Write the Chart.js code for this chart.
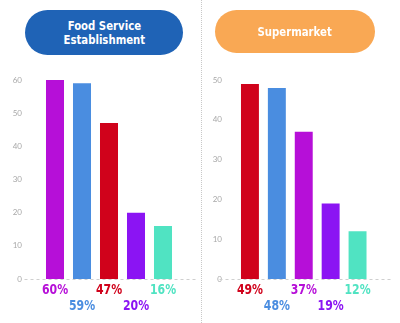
<!DOCTYPE html>
<html>
<head>
<meta charset="utf-8">
<script src="https://cdn.jsdelivr.net/npm/chart.js@4/dist/chart.umd.min.js"></script>
<style>
  html, body { margin: 0; padding: 0; background: #fff; }
  #wrap { position: relative; width: 400px; height: 323px; overflow: hidden; }
  canvas { position: absolute; top: 0; }
  #c1 { left: 0; }
  #c2 { left: 200px; }
  .sep { position: absolute; left: 201px; top: 0; height: 323px; border-left: 1px dotted #c8c8c8; }
  .pill { position: absolute; color: #fff; z-index: 2;
          display: flex; align-items: center; justify-content: center; }
  .pill span { display: inline-block; font-family: "DejaVu Sans", sans-serif; font-weight: bold;
               font-size: 13px; line-height: 14px; text-align: center; transform: scaleX(0.78); white-space: nowrap; }
  #p1 { left: 25px; top: 10px; width: 158px; height: 45px; border-radius: 23px; background: #1f63b6; }
  #p2 { left: 215px; top: 10px; width: 160px; height: 43px; border-radius: 22px; background: #f9a854; }
</style>
</head>
<body>
<div id="wrap">
  <canvas id="c1" width="200" height="323"></canvas>
  <canvas id="c2" width="200" height="323"></canvas>
  <div class="sep"></div>
  <div class="pill" id="p1"><span>Food Service<br>Establishment</span></div>
  <div class="pill" id="p2"><span>Supermarket</span></div>
</div>
<script>
// Share of respondents (%) per segment
const categories = ['1', '2', '3', '4', '5'];
const foodServiceValues = [60, 59, 47, 20, 16];
const supermarketValues = [49, 48, 37, 19, 12];
const foodServiceColors = ['#b60fd8', '#4a8de0', '#d0021b', '#8b14f3', '#50e3c2'];
const supermarketColors = ['#d0021b', '#4a8de0', '#b60fd8', '#8b14f3', '#50e3c2'];
const foodServiceMax = 60;
const supermarketMax = 50;
const tickStep = 10;

// Dashed zero line and staggered percentage labels under each bar
const baselineAndLabels = {
  id: 'baselineAndLabels',
  afterDatasetsDraw(chart) {
    const { ctx, chartArea, scales } = chart;
    const y0 = scales.y.getPixelForValue(0);
    ctx.save();
    ctx.strokeStyle = '#cfcfcf';
    ctx.lineWidth = 1;
    ctx.setLineDash([3, 3]);
    ctx.beginPath();
    ctx.moveTo(chartArea.left - 17, Math.round(y0) + 0.5);
    ctx.lineTo(chartArea.right + 20, Math.round(y0) + 0.5);
    ctx.stroke();
    ctx.setLineDash([]);
    const ds = chart.data.datasets[0];
    const meta = chart.getDatasetMeta(0);
    ctx.font = 'bold 14px "DejaVu Sans", sans-serif';
    ctx.textAlign = 'center';
    ctx.textBaseline = 'middle';
    meta.data.forEach((bar, i) => {
      ctx.fillStyle = ds.backgroundColor[i];
      const y = y0 + (i % 2 === 0 ? 11 : 27);
      ctx.save();
      ctx.translate(bar.x, y);
      ctx.scale(0.78, 1);
      ctx.fillText(ds.data[i] + '%', 0, 0);
      ctx.restore();
    });
    ctx.restore();
  }
};

function makeChart(id, values, colors, max, yWidth, padRight) {
  return new Chart(document.getElementById(id), {
    type: 'bar',
    data: {
      labels: categories,
      datasets: [{ data: values, backgroundColor: colors, borderWidth: 0,
                   categoryPercentage: 1, barPercentage: 0.667 }]
    },
    options: {
      responsive: false,
      animation: false,
      devicePixelRatio: 1,
      layout: { padding: { top: 80, bottom: 44, left: 0, right: padRight } },
      plugins: { legend: { display: false }, tooltip: { enabled: false } },
      scales: {
        x: { display: false },
        y: {
          min: 0, max: max,
          ticks: { stepSize: tickStep, color: '#a8a8a8', padding: yWidth - 22,
                   font: { family: 'Lato, "Open Sans", sans-serif', size: 8 } },
          grid: { display: false, drawTicks: false },
          border: { display: false },
          afterFit(scale) { scale.width = yWidth; }
        }
      }
    },
    plugins: [baselineAndLabels]
  });
}

makeChart('c1', foodServiceValues, foodServiceColors, foodServiceMax, 41.5, 23.5);
makeChart('c2', supermarketValues, supermarketColors, supermarketMax, 36.5, 29);
</script>
</body>
</html>
